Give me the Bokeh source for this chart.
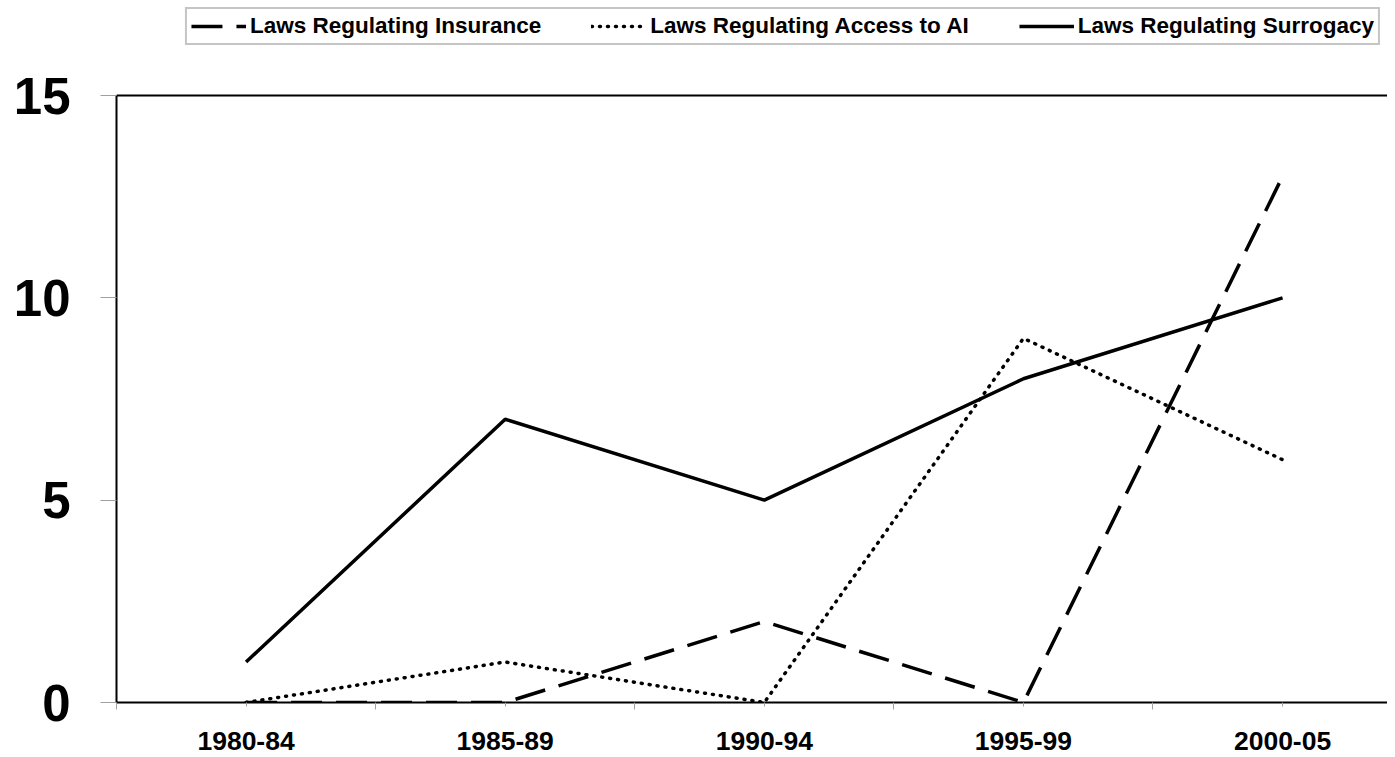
from bokeh.plotting import figure
from bokeh.models import Range1d, FixedTicker, Legend, LegendItem, Span
from bokeh.embed import file_html
from bokeh.resources import INLINE

periods = ["1980-84", "1985-89", "1990-94", "1995-99", "2000-05"]
insurance = [0, 0, 2, 0, 13]
access_ai = [0, 1, 0, 9, 6]
surrogacy = [1, 7, 5, 8, 10]
y_ticks = [0, 5, 10, 15]

FONT = "Liberation Sans"
xs = list(range(len(periods)))

# frame includes the legend strip above the value 15 line
p = figure(frame_width=1271, frame_height=702, output_backend="svg", toolbar_location=None,
           x_range=Range1d(-0.5, 4.405), y_range=Range1d(0, 17.348),
           min_border_left=116, min_border_top=0, min_border_bottom=55, min_border_right=0,
           background_fill_color="white", border_fill_color="white")
p.outline_line_color = None
p.xgrid.visible = False
p.ygrid.visible = False

# top border of the plot area
p.add_layout(Span(location=15, dimension="width", line_color="black", line_width=2))

r1 = p.line(xs, insurance, line_color="black", line_width=3.5, line_dash="31 14")
r2 = p.line(xs, access_ai, line_color="black", line_width=3.5, line_dash="1 7", line_cap="round")
r3 = p.line(xs, surrogacy, line_color="black", line_width=3.5)

xa = p.xaxis[0]
xa.ticker = FixedTicker(ticks=xs, minor_ticks=[i - 0.5 for i in range(len(periods) + 1)])
xa.major_label_overrides = {i: lab for i, lab in enumerate(periods)}
xa.axis_line_color = "black"
xa.axis_line_width = 2
xa.major_tick_in = 0
xa.major_tick_out = 4
xa.minor_tick_in = 0
xa.minor_tick_out = 7
xa.major_tick_line_color = "#a0a0a0"
xa.minor_tick_line_color = "#a0a0a0"
xa.major_label_text_font = FONT
xa.major_label_text_font_style = "bold"
xa.major_label_text_font_size = "26.5px"
xa.major_label_text_color = "black"
xa.major_label_standoff = 22

ya = p.yaxis[0]
ya.ticker = FixedTicker(ticks=y_ticks)
ya.bounds = (0, 15)
ya.axis_line_color = "black"
ya.axis_line_width = 2
ya.major_tick_in = 0
ya.major_tick_out = 16
ya.minor_tick_line_color = None
ya.major_tick_line_color = "#a0a0a0"
ya.major_label_text_font = FONT
ya.major_label_text_font_style = "bold"
ya.major_label_text_font_size = "51px"
ya.major_label_text_color = "black"
ya.major_label_standoff = 30

legend = Legend(items=[
    LegendItem(label="Laws Regulating Insurance", renderers=[r1]),
    LegendItem(label="Laws Regulating Access to AI", renderers=[r2]),
    LegendItem(label="Laws Regulating Surrogacy", renderers=[r3]),
], orientation="horizontal", location="top_right", margin=7, padding=4,
    glyph_width=55, glyph_height=22, label_height=22, label_standoff=4, spacing=50,
    label_text_font=FONT, label_text_font_style="bold", label_text_font_size="22.5px",
    label_text_color="black",
    border_line_color="#8c8c8c", border_line_width=2, background_fill_color="white",
    background_fill_alpha=1.0)
p.add_layout(legend, "center")

open("out.html", "w").write(file_html(p, INLINE))
